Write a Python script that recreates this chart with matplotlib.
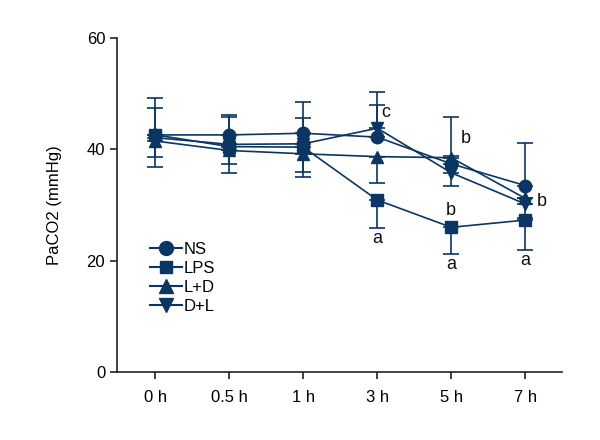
import matplotlib
matplotlib.use("Agg")
import matplotlib.pyplot as plt
from matplotlib.lines import Line2D
from matplotlib import font_manager as fm

names = {f.name for f in fm.fontManager.ttflist}
fam = "Liberation Sans Narrow" if "Liberation Sans Narrow" in names else "Liberation Sans"
plt.rcParams['font.family'] = [fam, 'DejaVu Sans']

time_labels = ["0 h", "0.5 h", "1 h", "3 h", "5 h", "7 h"]
ns = [42.6, 42.6, 42.9, 42.2, 37.4, 33.5]
lps = [42.6, 40.5, 40.4, 30.9, 26.0, 27.3]
ld = [41.5, 39.8, 39.2, 38.7, 38.5, 31.2]
dl = [42.1, 40.9, 41.0, 43.8, 35.8, 30.2]
ns_err = [6.6, 3.6, 5.6, 5.8, 8.4, 7.7]        # drawn upward
dl_err = [5.3, 5.0, 4.6, 6.5, 3.0, 1.0]        # drawn upward
lps_err = [4.0, 3.1, 4.5, 5.0, 4.8, 5.4]       # drawn downward
ld_err = [4.7, 4.1, 4.2, 4.7, 5.1, 3.5]        # drawn downward

annotations = [(3.12, 46.6, "c"), (3.0, 24.0, "a"), (4.2, 42.0, "b"), (4.0, 29.0, "b"),
               (4.0, 19.4, "a"), (5.22, 30.6, "b"), (5.0, 20.0, "a")]

color = "#0b3563"
fig = plt.figure(figsize=(6, 4.4), dpi=100)
ax = fig.add_axes([0.195, 0.1545, 0.742, 0.759])
x = list(range(len(time_labels)))

series = [
    ("NS", ns, ns_err, "up", "o", 9),
    ("LPS", lps, lps_err, "down", "s", 8),
    ("L+D", ld, ld_err, "down", "^", 8.5),
    ("D+L", dl, dl_err, "up", "v", 8.5),
]
handles = []
for name, vals, err, direction, mk, ms in series:
    if direction == "up":
        yerr = [[0] * len(err), err]
    else:
        yerr = [err, [0] * len(err)]
    ax.errorbar(x, vals, yerr=yerr, color=color, lw=1.2, elinewidth=1.2,
                capsize=6, capthick=1.2, marker=mk, ms=ms, zorder=3)
    handles.append(Line2D([], [], color=color, lw=1.5, marker=mk, ms=ms + 1, label=name))

for xx, yy, t in annotations:
    ax.text(xx, yy, t, ha="center", va="center", fontsize=13, color="#111111")

ax.set_xlim(-0.52, 5.5)
ax.set_ylim(0, 60)
ax.set_xticks(x)
ax.set_xticklabels(time_labels)
ax.set_yticks([0, 20, 40, 60])
ax.spines['top'].set_visible(False)
ax.spines['right'].set_visible(False)
for s in ['left', 'bottom']:
    ax.spines[s].set_linewidth(1.2)
    ax.spines[s].set_color("#222222")
ax.tick_params(axis='both', labelsize=12, length=5, width=1.2, color="#222222")
ax.tick_params(axis='x', pad=8)
ax.set_ylabel("PaCO2 (mmHg)", fontsize=12, labelpad=18)

leg = ax.legend(handles=handles, loc="upper left", bbox_to_anchor=(0.075, 0.39),
                frameon=False, fontsize=12, handlelength=1.9, handletextpad=0.1,
                labelspacing=0.25, borderaxespad=0, borderpad=0)
fig.savefig("out.png", dpi=100)
